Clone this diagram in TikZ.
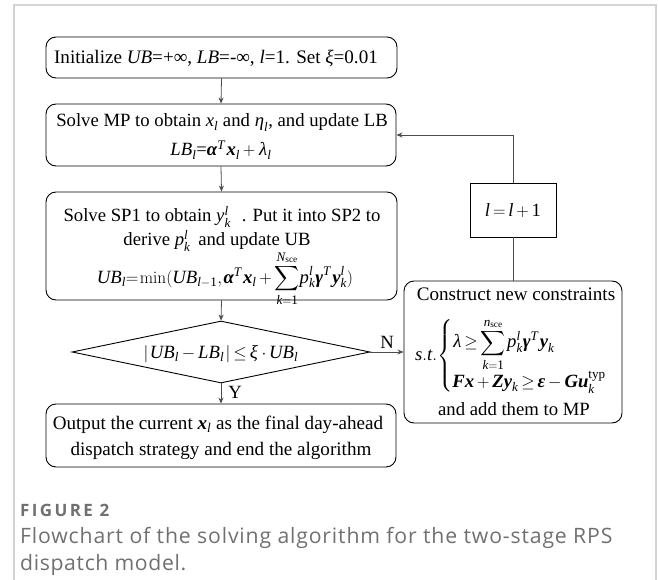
\documentclass[tikz,border=0pt]{standalone}
\usepackage{amsmath}
\usepackage{mathspec}
\setmainfont{Liberation Serif}
\setmathsfont(Digits,Latin,Greek){Liberation Serif}
\newfontfamily\capfont{Open Sans}
\usetikzlibrary{arrows.meta,shapes.geometric}
\definecolor{capgray}{HTML}{707070}
\definecolor{framegray}{HTML}{D4D4D4}
% bold italic vector letters
\newcommand{\bv}[1]{\text{\bfseries\itshape #1}}
% spacing for the formulas
\newcommand{\tightmath}{\thickmuskip=3mu plus 1mu\medmuskip=3mu\thinmuskip=1.5mu}
\begin{document}
\begin{tikzpicture}[x=1pt,y=-1pt,
  box/.style={draw=black,line width=0.9pt,rounded corners=10pt,inner sep=0pt},
  sqbox/.style={draw=black,line width=0.9pt,inner sep=0pt},
  conn/.style={draw=black!70,line width=0.8pt},
  arr/.style={conn,-{Stealth[length=6pt,width=5pt]}},
  txt/.style={inner sep=0pt,anchor=base,font=\fontsize{18.7}{22}\selectfont\tightmath},
  big/.style={font=\fontsize{19.1}{22}\selectfont\tightmath},
  lbl/.style={inner sep=0pt,font=\fontsize{18.7}{22}\selectfont\tightmath}]
\useasboundingbox (0,0) rectangle (658,580);
% card frame
\draw[framegray,line width=1.2pt] (14,600) -- (14,5) -- (656,5) -- (656,600);

% boxes
\node[box,minimum width=351pt,minimum height=41pt] (init) at (221.5,57.5) {};
\node[box,minimum width=350pt,minimum height=62pt] (mp) at (221,135) {};
\node[box,minimum width=351pt,minimum height=108pt] (sp) at (221.5,246) {};
\node[diamond,draw=black,line width=0.9pt,minimum width=298pt,minimum height=62pt,inner sep=0pt] (dec) at (221,352) {};
\node[box,minimum width=350pt,minimum height=63pt] (out) at (221,435.5) {};
\node[box,minimum width=218pt,minimum height=142pt] (cons) at (513,352) {};
\node[sqbox,minimum width=86pt,minimum height=54pt] (inc) at (513,210) {};

% texts
\node[txt,big] (t0) at (216,64) {Initialize \textit{UB}=+∞, \textit{LB}=-∞, \textit{l}=1. Set \textit{ξ}=0.01};
\node[txt] (t1) at (222,127) {Solve MP to obtain $x_l$ and $\eta_l$, and update LB};
\node[txt] (t2) at (221,156) {$LB_l$=$\bv{α}^T\,\bv{x}_l+\lambda_l$};
\node[txt] (t3) at (222,222) {Solve SP1 to obtain $y_k^l$\,\, . Put it into SP2 to};
\node[txt] (t4) at (217,245.5) {derive $p_k^l$\, and update UB};
\node[txt] (t5) at (225,283) {\thickmuskip=1.5mu$UB_l{=}\min(UB_{l-1},\bv{α}^T\,\bv{x}_l+\displaystyle\sum\limits_{k=1}^{N_{\text{sce}}}\!p_k^l\bv{γ}^T\,\bv{y}_k^l)$};
\node[txt] (t6) at (221,358) {$|\,UB_l-LB_l\,|\le\xi\cdot UB_l$};
\node[txt,big] (t7) at (516,300) {Construct new constraints};
\node[lbl,anchor=west] (t8) at (415,356) {$s.t.\!\left\{\begin{array}{@{}l@{}}\displaystyle\lambda\ge\sum_{k=1}^{n_{\text{sce}}}p_k^l\bv{γ}^T\,\bv{y}_k\\[6pt]
  \bv{Fx}+\bv{Zy}_k\ge\bv{ε}-\bv{Gu}_k^{\text{typ}}\end{array}\right.$};
\node[txt] (t9) at (514,415) {and add them to MP};
\node[txt] (t10) at (513,216) {$l=l+1$};
\node[txt,big] (t11) at (218,429) {Output the current $\bv{x}_l$ as the final day-ahead};
\node[txt,big] (t12) at (221,455) {dispatch strategy and end the algorithm};

% connectors
\draw[arr] (init.south) -- (mp.north);
\draw[arr] (mp.south) -- (sp.north);
\draw[arr] (sp.south) -- (dec.north);
\draw[arr] (dec.south) -- (out.north) node[lbl,pos=0.45,right=7pt] (ylab) {Y};
\draw[arr] (dec.east) -- (cons.west) node[lbl,midway,above=3pt] (nlab) {N};
\draw[conn] (cons.north) -- (inc.south);
\draw[arr] (inc.north) |- (mp.east);

% caption
\node[anchor=west,inner sep=0pt,text=capgray,font=\capfont\bfseries\fontsize{17}{18}\selectfont\addfontfeatures{LetterSpace=14}] (fig) at (20,510) {FIGURE 2};
\node[anchor=west,inner sep=0pt,text=capgray,font=\capfont\fontsize{21.2}{22}\selectfont\addfontfeatures{LetterSpace=4}] (cap1) at (20,538) {Flowchart of the solving algorithm for the two-stage RPS};
\node[anchor=west,inner sep=0pt,text=capgray,font=\capfont\fontsize{21.2}{22}\selectfont\addfontfeatures{LetterSpace=3}] (cap2) at (20,565) {dispatch model.};
\end{tikzpicture}
\end{document}
